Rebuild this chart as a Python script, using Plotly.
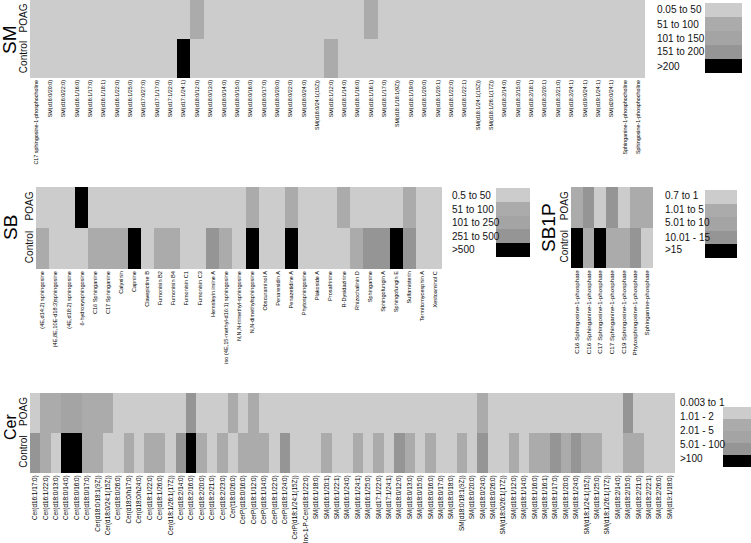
import plotly.graph_objects as go

W, H = 751, 543

# Level of each cell: 1 = lowest bin ... 5 = highest bin
groups = ["Control", "POAG"]

sm_labels = [
    "C17 sphingosine-1-phosphocholine", "SM(d16:0/20:0)", "SM(d16:0/22:0)", "SM(d16:1/16:0)",
    "SM(d16:1/17:0)", "SM(d16:1/18:1)", "SM(d16:1/22:0)", "SM(d16:1/25:0)", "SM(d17:0/27:0)",
    "SM(d17:1/17:0)", "SM(d17:1/22:0)", "SM(d17:1/24:1)", "SM(d18:0/12:0)", "SM(d18:0/13:0)",
    "SM(d18:0/14:0)", "SM(d18:0/15:0)", "SM(d18:0/16:0)", "SM(d18:0/17:0)", "SM(d18:0/20:0)",
    "SM(d18:0/22:0)", "SM(d18:0/24:0)", "SM(d18:0/24:1(15Z))", "SM(d18:1/12:0)", "SM(d18:1/14:0)",
    "SM(d18:1/16:0)", "SM(d18:1/16:1)", "SM(d18:1/17:0)", "SM(d18:1/18:1(9Z))", "SM(d18:1/19:0)",
    "SM(d18:1/20:0)", "SM(d18:1/20:1)", "SM(d18:1/22:0)", "SM(d18:1/22:1)", "SM(d18:1/24:1(15Z))",
    "SM(d18:1/26:1(17Z))", "SM(d18:2/14:0)", "SM(d18:2/15:0)", "SM(d18:2/18:1)", "SM(d18:2/20:1)",
    "SM(d18:2/21:0)", "SM(d18:2/24:1)", "SM(d19:0/24:1)", "SM(d19:1/24:1)", "SM(d20:0/24:1)",
    "Sphinganine-1-phosphocholine", "Sphingosine-1-phosphocholine",
]
sm_control = [1, 1, 1, 1, 1, 1, 1, 1, 1, 1, 1, 5, 1, 1, 1, 1, 1, 1, 1, 1, 1, 1, 2, 1,
              1, 1, 1, 1, 1, 1, 1, 1, 1, 1, 1, 1, 1, 1, 1, 1, 1, 1, 1, 1, 1, 1]
sm_poag = [1, 1, 1, 1, 1, 1, 1, 1, 1, 1, 1, 1, 2, 1, 1, 1, 1, 1, 1, 1, 1, 1, 1, 1,
           1, 2, 1, 1, 1, 1, 1, 1, 1, 1, 1, 1, 1, 1, 1, 1, 1, 1, 1, 1, 1, 1]
sm_bins = ["0.05 to 50", "51 to 100", "101 to 150", "151 to 200", ">200"]

sb_labels = [
    "(4E,d14:2) sphingosine", "(4E,8E,10E-d18:3)sphingosine", "(4E,d18:2) sphingosine",
    "6-hydroxysphingosine", "C16 Sphinganine", "C17 Sphinganine", "Calyxinin", "Capnine",
    "Clavepictine B", "Fumonisin B2", "Fumonisin B4", "Fumonisin C1", "Fumonisin C3",
    "Hemsleyin imine A", "iso (4E,15-methyl-d16:1) sphingosine", "N,N,N-trimethyl-sphingosine",
    "N,N-dimethylsphingosine", "Obscuraminol A", "Penaresidin A", "Penazetidine A",
    "Phytosphingosine", "Plakoside A", "Prosafrinine", "R-Dysidazirine", "Rhizochalinin D",
    "Sphinganine", "Sphingofungin A", "Sphingofungin E", "Sulfamisterin", "Termitomycesphin A",
    "Xestoaminol C",
]
sb_control = [2, 1, 1, 1, 2, 2, 2, 5, 1, 2, 2, 1, 1, 4, 2, 1, 5, 1, 1, 5, 1, 1, 1, 1,
              2, 4, 4, 5, 4, 1, 1]
sb_poag = [1, 1, 1, 5, 1, 1, 1, 1, 1, 1, 1, 1, 1, 1, 1, 1, 2, 1, 1, 2, 1, 1, 1, 2,
           1, 1, 1, 1, 2, 1, 1]
sb_bins = ["0.5 to 50", "51 to 100", "101 to 250", "251 to 500", ">500"]

sb1p_labels = [
    "C16 Sphingosine-1-phosphate", "C16 Sphinganine-1-phosphate", "C17 Sphingosine-1-phosphate",
    "C17 Sphinganine-1-phosphate", "C19 Sphingosine-1-phosphate", "Phytosphingosine-1-phosphate",
    "Sphinganine-phosphate",
]
sb1p_control = [5, 2, 5, 2, 2, 4, 1]
sb1p_poag = [2, 4, 1, 4, 1, 2, 2]
sb1p_bins = ["0.7 to 1", "1.01 to 5", "5.01 to 10", "10.01 - 15", ">15"]

cer_labels = [
    "Cer(d16:1/17:0)", "Cer(d16:1/22:0)", "Cer(d18:0/13:0)", "Cer(d18:0/14:0)", "Cer(d18:0/16:0)",
    "Cer(d18:0/17:0)", "Cer(d18:0/18:1(9Z))", "Cer(d18:0/24:1(15Z))", "Cer(d18:0/26:0)",
    "Cer(d18:0/h17:0)", "Cer(d18:0/h24:0)", "Cer(d18:1/22:0)", "Cer(d18:1/26:0)",
    "Cer(d18:1/26:1(17Z))", "Cer(d18:2/14:0)", "Cer(d18:2/16:0)", "Cer(d18:2/20:0)",
    "Cer(d18:2/21:0)", "Cer(d18:2/23:0)", "Cer(t18:0/26:0)", "CerP(d18:0/16:0)",
    "CerP(d18:1/12:0)", "CerP(d18:1/14:0)", "CerP(d18:1/22:0)", "CerP(d18:1/24:0)",
    "CerP(d18:1/24:1(15Z))", "Ino-1-P-Cer(d18:1/22:0)", "SM(d16:1/18:0)", "SM(d16:1/20:1)",
    "SM(d16:1/22:1)", "SM(d16:1/24:0)", "SM(d16:1/24:1)", "SM(d16:1/25:0)", "SM(d17:1/22:0)",
    "SM(d17:1/24:1)", "SM(d18:0/12:0)", "SM(d18:0/13:0)", "SM(d18:0/15:0)", "SM(d18:0/16:0)",
    "SM(d18:0/17:0)", "SM(d18:0/18:0)", "SM(d18:0/18:1(9Z))", "SM(d18:0/20:0)", "SM(d18:0/24:0)",
    "SM(d18:0/26:0)", "SM(d18:0/26:1(17Z))", "SM(d18:1/12:0)", "SM(d18:1/14:0)", "SM(d18:1/16:0)",
    "SM(d18:1/16:1)", "SM(d18:1/17:0)", "SM(d18:1/20:0)", "SM(d18:1/24:0)",
    "SM(d18:1/24:1(15Z))", "SM(d18:1/25:0)", "SM(d18:1/26:1(17Z))", "SM(d18:2/14:0)",
    "SM(d18:2/15:0)", "SM(d18:2/21:0)", "SM(d18:2/22:1)", "SM(d18:2/26:0)", "SM(d19:1/18:0)",
]
cer_control = [4, 2, 1, 5, 5, 2, 2, 1, 1, 2, 1, 2, 2, 1, 4, 5, 2, 1, 2, 1, 2, 2, 2, 1,
               4, 1, 1, 1, 2, 1, 1, 2, 1, 2, 1, 4, 2, 1, 2, 1, 1, 2, 1, 4, 1, 1, 2, 1,
               2, 2, 4, 2, 4, 2, 2, 1, 1, 2, 2, 1, 1, 1]
cer_poag = [1, 2, 2, 3, 3, 2, 2, 2, 1, 1, 1, 1, 1, 1, 1, 4, 1, 1, 1, 2, 1, 2, 1, 1,
            1, 1, 1, 1, 1, 1, 1, 1, 1, 1, 1, 1, 1, 1, 1, 1, 1, 1, 1, 2, 1, 1, 1, 1,
            1, 1, 1, 1, 1, 1, 1, 1, 1, 4, 1, 1, 1, 1]
cer_bins = ["0.003 to 1", "1.01 - 2", "2.01 - 5", "5.01 - 100", ">100"]

greys = ["#cccccc", "#ababab", "#a4a4a4", "#959595", "#000000"]
levels = [1, 2, 3, 4, 5]

scale = []
for i, c in enumerate(greys):
    scale.append([i / 5, c])
    scale.append([(i + 1) / 5, c])

FONT = "Liberation Sans, Arial, sans-serif"
NARROW = "Liberation Sans Narrow, Arial Narrow, Liberation Sans, Arial"

fig = go.Figure()
layout = {}


def fx(p):
    return p / W


def fy(p):
    return 1 - p / H


# pixel boxes for each panel
panels = [
    dict(name="SM", labels=sm_labels, ctrl=sm_control, poag=sm_poag, bins=sm_bins,
         heat=(30, 645, 0, 78), sw=(705, 742, 3, 73), tx=655, ty=[10, 24, 38, 52, 66],
         title=(9, 40, 19), tick=5.4),
    dict(name="SB", labels=sb_labels, ctrl=sb_control, poag=sb_poag, bins=sb_bins,
         heat=(36, 442, 187, 269), sw=(496, 530, 188, 257), tx=450, ty=[195, 209, 222, 236, 250],
         title=(10, 228, 19), tick=5.6),
    dict(name="SB1P", labels=sb1p_labels, ctrl=sb1p_control, poag=sb1p_poag, bins=sb1p_bins,
         heat=(571, 653, 187, 268), sw=(705, 737, 190, 258), tx=663, ty=[196, 209, 223, 237, 250],
         title=(548, 228, 19), tick=6.2),
    dict(name="Cer", labels=cer_labels, ctrl=cer_control, poag=cer_poag, bins=cer_bins,
         heat=(30, 675, 393, 473), sw=(723, 751, 407, 467), tx=678, ty=[402, 416, 430, 444, 458],
         title=(10, 427, 16), tick=6.4),
]

annotations = []
n_ax = 0
for p in panels:
    # heatmap
    n_ax += 1
    xa, ya = f"x{n_ax}", f"y{n_ax}"
    n = len(p["labels"])
    fig.add_trace(go.Heatmap(
        z=[p["ctrl"], p["poag"]], x=list(range(n)), y=[0, 1],
        colorscale=scale, zmin=0.5, zmax=5.5, showscale=False,
        xaxis=xa, yaxis=ya, hoverinfo="skip",
    ))
    x0, x1, y0, y1 = p["heat"]
    layout[f"xaxis{n_ax}"] = dict(
        domain=[fx(x0), fx(x1)], anchor=ya, range=[-0.5, n - 0.5],
        tickvals=list(range(n)), ticktext=p["labels"], tickangle=-90,
        tickfont=dict(family=NARROW, size=p["tick"], color="#000"),
        showgrid=False, zeroline=False, showline=False, ticks="", automargin=False,
    )
    layout[f"yaxis{n_ax}"] = dict(
        domain=[fy(y1), fy(y0)], anchor=xa, range=[-0.5, 1.5],
        tickvals=[0, 1], ticktext=groups, tickangle=-90,
        tickfont=dict(family=FONT, size=10, color="#111"),
        showgrid=False, zeroline=False, showline=False, ticks="", automargin=False,
    )

    # legend swatch
    n_ax += 1
    xa, ya = f"x{n_ax}", f"y{n_ax}"
    fig.add_trace(go.Heatmap(
        z=[[v] for v in levels], x=[0], y=list(range(5)),
        colorscale=scale, zmin=0.5, zmax=5.5, showscale=False,
        xaxis=xa, yaxis=ya, hoverinfo="skip",
    ))
    s0, s1, t0, t1 = p["sw"]
    layout[f"xaxis{n_ax}"] = dict(domain=[fx(s0), fx(s1)], anchor=ya, visible=False,
                                  range=[-0.5, 0.5])
    layout[f"yaxis{n_ax}"] = dict(domain=[fy(t1), fy(t0)], anchor=xa, visible=False,
                                  range=[4.5, -0.5])

    for label, ty in zip(p["bins"], p["ty"]):
        annotations.append(dict(
            x=fx(p["tx"]), y=fy(ty), xref="paper", yref="paper", text=label,
            showarrow=False, xanchor="left", yanchor="middle",
            font=dict(family=FONT, size=10, color="#111"),
        ))

    tx, ty, ts = p["title"]
    annotations.append(dict(
        x=fx(tx), y=fy(ty), xref="paper", yref="paper", text=p["name"],
        showarrow=False, textangle=-90, xanchor="center", yanchor="middle",
        font=dict(family=FONT, size=ts, color="#000"),
    ))

fig.update_layout(
    width=W, height=H, autosize=False,
    margin=dict(l=0, r=0, t=0, b=0),
    paper_bgcolor="white", plot_bgcolor="white",
    annotations=annotations, showlegend=False,
    **layout,
)

# the page body has a default 8px margin; remove it so the figure sits at (0, 0)
fig.write_html("out.html", config={"displayModeBar": False},
               post_script="document.body.style.margin='0';")
